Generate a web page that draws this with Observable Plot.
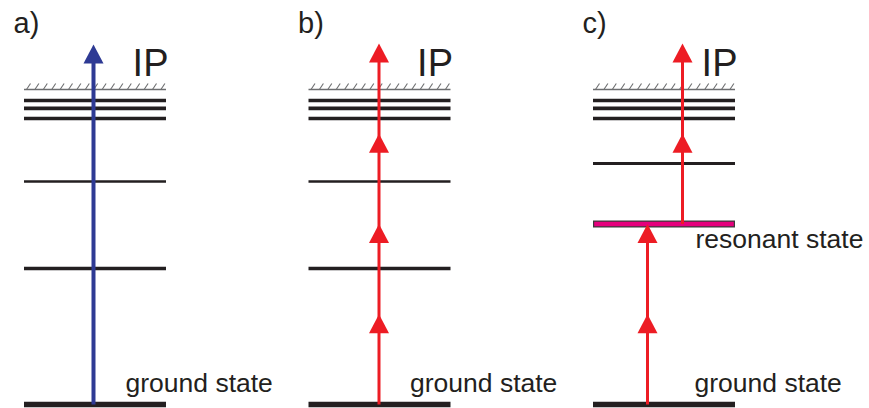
<!DOCTYPE html>
<html>
<head>
<meta charset="utf-8">
<script src="https://cdn.jsdelivr.net/npm/d3@7"></script>
<script src="https://cdn.jsdelivr.net/npm/@observablehq/plot@0.6"></script>
<style>
  html, body { margin: 0; padding: 0; background: #fff; }
</style>
</head>
<body>
<div id="chart"></div>
<script>
// ---------- data (energies in units of the ionisation potential) ----------
const panelLabels = ["a)", "b)", "c)"];
const ipEnergy = 1.0;
const groundEnergy = 0;
const rydbergLevels = [0.908, 0.940, 0.965];
const boundLevelsAB = [0.432, 0.708];
const boundLevelsC = [0.765];
const resonantEnergy = 0.573;
const uvPhotonEnergy = 1.143;      // panel a: one photon
const photonEnergy = 0.2865;       // panels b, c
const photonsB = 4;                // non-resonant 4-photon ionisation
const photonsCLower = 2;           // ground -> resonant
const photonsCUpper = 2;           // resonant -> continuum
const textIP = "IP";
const textGround = "ground state";
const textResonant = "resonant state";

// ---------- layout ----------
const W = 869, H = 408;
const x0px = 24, panelStep = 284.5, levelLenPx = 142;
const pxU = 1 / panelStep;                 // one pixel in x units
const yGroundPx = 404, yIPpx = 89;
const pxE = (ipEnergy - groundEnergy) / (yGroundPx - yIPpx); // one pixel in energy units
const levelLen = levelLenPx * pxU;
const arrowFrac = {a: 69 / 142, b: 70 / 142, cLow: 54 / 142, cUp: 89 / 142};
const black = "#231f20", red = "#ed1c24", blue = "#2e3a94", magenta = "#e5007d";
const font = "'Liberation Sans', Arial, Helvetica, sans-serif";

// ---------- derived tables ----------
const levels = [];
panelLabels.forEach((p, i) => {
  levels.push({panel: i, E: groundEnergy, kind: "ground"});
  (i < 2 ? boundLevelsAB : boundLevelsC).forEach((E, k) =>
    levels.push({panel: i, E, kind: i < 2 ? (k === 0 ? "low" : "mid") : "cmid"}));
  rydbergLevels.forEach(E => levels.push({panel: i, E, kind: "ryd"}));
});
const widthOf = {ground: 5.5, low: 3.5, mid: 2.6, cmid: 3, ryd: 3.6};

const hatches = [];
panelLabels.forEach((p, i) => {
  d3.range(17).forEach(k => hatches.push({x: i + (2 + k * 8.4) * pxU, panel: i}));
});

// arrows: segments and heads
const ax = (i, f) => i + f * levelLen;
const segs = [
  {x: ax(0, arrowFrac.a), y1: groundEnergy, y2: groundEnergy + uvPhotonEnergy, c: blue, w: 4},
  {x: ax(1, arrowFrac.b), y1: groundEnergy, y2: groundEnergy + photonsB * photonEnergy, c: red, w: 3},
  {x: ax(2, arrowFrac.cLow), y1: groundEnergy, y2: groundEnergy + photonsCLower * photonEnergy, c: red, w: 3},
  {x: ax(2, arrowFrac.cUp), y1: resonantEnergy, y2: resonantEnergy + photonsCUpper * photonEnergy, c: red, w: 3}
];
const heads = [{x: segs[0].x, y: segs[0].y2, c: blue}];
d3.range(1, photonsB + 1).forEach(n => heads.push({x: segs[1].x, y: groundEnergy + n * photonEnergy, c: red}));
d3.range(1, photonsCLower + 1).forEach(n => heads.push({x: segs[2].x, y: groundEnergy + n * photonEnergy, c: red}));
d3.range(1, photonsCUpper + 1).forEach(n => heads.push({x: segs[3].x, y: resonantEnergy + n * photonEnergy, c: red}));

const headSymbol = {
  draw(ctx) { ctx.moveTo(0, 0); ctx.lineTo(10, 19); ctx.lineTo(-10, 19); ctx.closePath(); }
};

const chart = Plot.plot({
  width: W, height: H,
  marginLeft: 0, marginRight: 0, marginTop: 0, marginBottom: 0,
  x: {domain: [-x0px * pxU, (W - x0px) * pxU], range: [0, W], axis: null},
  y: {domain: [groundEnergy, ipEnergy], range: [yGroundPx, yIPpx], axis: null},
  style: {fontFamily: font, background: "#fff", overflow: "visible"},
  marks: [
    // ionisation limit with hatching
    Plot.ruleY(panelLabels.map((p, i) => ({i})), {
      y: ipEnergy, x1: d => d.i, x2: d => d.i + levelLen, stroke: "#6d6e70", strokeWidth: 1.3
    }),
    Plot.link(hatches, {
      x1: "x", y1: ipEnergy, x2: d => d.x + 4 * pxU, y2: ipEnergy + 6 * pxE,
      stroke: "#6d6e70", strokeWidth: 1.1
    }),
    // bound levels
    Plot.ruleY(levels, {
      y: "E", x1: "panel", x2: d => d.panel + levelLen,
      stroke: black, strokeWidth: d => widthOf[d.kind]
    }),
    // resonant state (outlined magenta bar)
    Plot.ruleY([resonantEnergy], {x1: 2, x2: 2 + levelLen, stroke: "#3a3a3a", strokeWidth: 7}),
    Plot.ruleY([resonantEnergy], {x1: 2 + 1.2 * pxU, x2: 2 + levelLen - 1.2 * pxU, stroke: magenta, strokeWidth: 4.6}),
    // photon arrows
    Plot.link(segs, {
      x1: "x", x2: "x", y1: "y1", y2: d => d.y2 - 9 * pxE,
      stroke: d => d.c, strokeWidth: d => d.w
    }),
    Plot.dot(heads, {x: "x", y: "y", symbol: headSymbol, fill: d => d.c, stroke: "none", r: 5}),
    // texts
    Plot.text(panelLabels, {
      x: (d, i) => i, y: ipEnergy, text: d => d, dx: -11, dy: -65.3,
      textAnchor: "start", lineAnchor: "middle", fontSize: 29, fill: black
    }),
    Plot.text(panelLabels, {
      x: (d, i) => i + levelLen, y: ipEnergy, text: () => textIP, dx: 2, dy: -25.2,
      textAnchor: "end", lineAnchor: "middle", fontSize: 38, fill: black
    }),
    Plot.text(panelLabels, {
      x: (d, i) => i + 101 * pxU, y: groundEnergy, text: () => textGround, dy: -20.5,
      textAnchor: "start", lineAnchor: "middle", fontSize: 26.5, fill: black
    }),
    Plot.text([textResonant], {
      x: 2 + 102 * pxU, y: resonantEnergy, text: d => d, dy: 15.4,
      textAnchor: "start", lineAnchor: "middle", fontSize: 26.5, fill: black
    })
  ]
});
document.getElementById("chart").appendChild(chart);
</script>
</body>
</html>
